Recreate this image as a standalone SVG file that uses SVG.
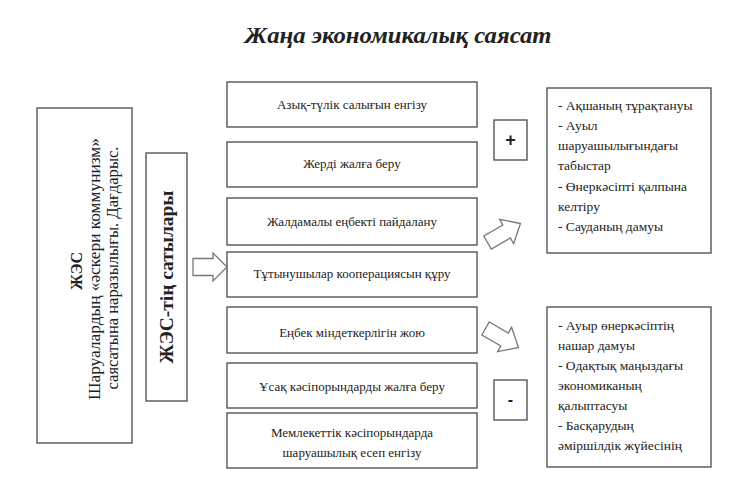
<svg xmlns="http://www.w3.org/2000/svg" width="742" height="479" viewBox="0 0 742 479">
<style>
.bx{fill:#fff;stroke:#555;stroke-width:1.4}
.ar{fill:#fff;stroke:#777;stroke-width:1.3;stroke-linejoin:miter}
text{font-family:"Liberation Serif","DejaVu Serif",serif;fill:#222}
.m{font-size:13px;text-anchor:middle}
.r{font-size:13.5px}
.b{font-weight:bold}
.sym{font-family:"Liberation Sans",sans-serif;font-weight:bold;text-anchor:middle}
</style>
<rect width="742" height="479" fill="#fff"/>
<text x="398" y="43" text-anchor="middle" font-size="23" font-weight="bold" font-style="italic" textLength="307" lengthAdjust="spacingAndGlyphs" fill="#111">Жаңа экономикалық саясат</text>

<g id="left">
<rect class="bx" x="37" y="108" width="95" height="335"/>
<text class="b" transform="translate(82,271) rotate(-90)" text-anchor="middle" font-size="16">ЖЭС</text>
<text transform="translate(100,269) rotate(-90)" text-anchor="middle" font-size="16" textLength="262" lengthAdjust="spacingAndGlyphs">Шаруалардың  «әскери коммунизм»</text>
<text transform="translate(118,268) rotate(-90)" text-anchor="middle" font-size="16" textLength="243" lengthAdjust="spacingAndGlyphs">саясатына наразылығы. Дағдарыс.</text>
</g>

<g id="stages">
<rect class="bx" x="146" y="153" width="41" height="248"/>
<text class="b" transform="translate(173,277) rotate(-90)" text-anchor="middle" font-size="18" textLength="173" lengthAdjust="spacingAndGlyphs">ЖЭС-тің сатылары</text>
</g>

<g id="n1"><rect class="bx" x="227" y="82" width="250" height="45"/><text class="m" x="352" y="109">Азық-түлік салығын енгізу</text></g>
<g id="n2"><rect class="bx" x="227" y="142" width="250" height="45"/><text class="m" x="352" y="168">Жерді жалға беру</text></g>
<g id="n3"><rect class="bx" x="227" y="198" width="250" height="47"/><text class="m" x="352" y="226">Жалдамалы еңбекті пайдалану</text></g>
<g id="n4"><rect class="bx" x="227" y="252" width="250" height="45"/><text class="m" x="352" y="278">Тұтынушылар кооперациясын құру</text></g>
<g id="n5"><rect class="bx" x="227" y="307" width="250" height="46"/><text class="m" x="352" y="337">Еңбек міндеткерлігін жою</text></g>
<g id="n6"><rect class="bx" x="227" y="363" width="250" height="45"/><text class="m" x="352" y="391">Ұсақ кәсіпорындарды жалға беру</text></g>
<g id="n7"><rect class="bx" x="227" y="413" width="250" height="55"/><text class="m" x="352" y="437">Мемлекеттік кәсіпорындарда</text><text class="m" x="352" y="457">шаруашылық есеп енгізу</text></g>

<g id="plus"><rect class="bx" x="494" y="120" width="33" height="40"/><text class="sym" x="510.5" y="146" font-size="18">+</text></g>
<g id="minus"><rect class="bx" x="494" y="380" width="33" height="40"/><text class="sym" x="510.5" y="405" font-size="16">-</text></g>

<g id="pos">
<rect class="bx" x="547" y="88" width="164" height="165"/>
<text class="r" x="558"><tspan x="558" y="110">- Ақшаның тұрақтануы</tspan><tspan x="558" y="130">- Ауыл</tspan><tspan x="558" y="150">шаруашылығындағы</tspan><tspan x="558" y="170">табыстар</tspan><tspan x="558" y="191">- Өнеркәсіпті қалпына</tspan><tspan x="558" y="211">келтіру</tspan><tspan x="558" y="231">- Сауданың дамуы</tspan></text>
</g>
<g id="neg">
<rect class="bx" x="547" y="307" width="164" height="160"/>
<text class="r" x="558"><tspan x="558" y="330">- Ауыр өнеркәсіптің</tspan><tspan x="558" y="350">нашар дамуы</tspan><tspan x="558" y="370">- Одақтық маңыздағы</tspan><tspan x="558" y="390">экономиканың</tspan><tspan x="558" y="410">қалыптасуы</tspan><tspan x="558" y="430">- Басқарудың</tspan><tspan x="558" y="450">әміршілдік жүйесінің</tspan></text>
</g>

<g id="connectors">
<path class="ar" transform="translate(210,267)" d="M-17,-8.5 L3,-8.5 L3,-14 L17,0 L3,14 L3,8.5 L-17,8.5 Z"/>
<path class="ar" transform="translate(504,233) rotate(-30)" d="M-19,-7.5 L3,-7.5 L3,-14 L19,0 L3,14 L3,7.5 L-19,7.5 Z"/>
<path class="ar" transform="translate(502,338) rotate(30)" d="M-19,-7.5 L3,-7.5 L3,-14 L19,0 L3,14 L3,7.5 L-19,7.5 Z"/>
</g>
</svg>
